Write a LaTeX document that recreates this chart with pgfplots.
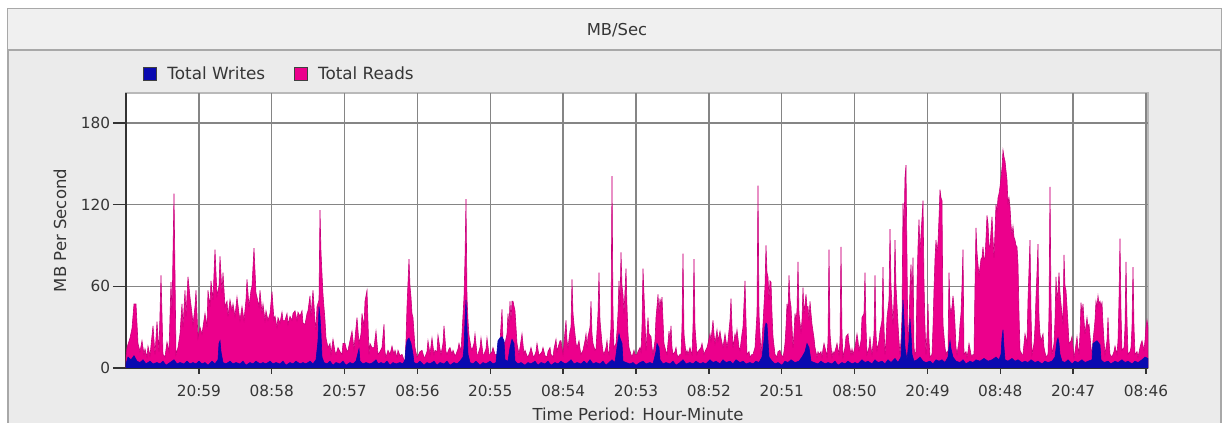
\documentclass[border=0pt]{standalone}
\usepackage{fontspec}
\setmainfont{DejaVu Sans}
\usepackage{pgfplots}
\usepackage{pgfplotstable}
\pgfplotsset{compat=1.18}
\definecolor{readc}{HTML}{EC008C}
\definecolor{readedge}{HTML}{C8007A}
\definecolor{writec}{HTML}{0A0AB0}
\definecolor{panel}{HTML}{EBEBEB}
\definecolor{panelborder}{HTML}{A8A8A8}
\definecolor{gridc}{HTML}{858585}
\definecolor{txt}{HTML}{363636}

\pgfplotstableread[row sep=\\]{
x y\\
126 8\\ 127 15\\ 130 22\\ 132 29\\ 134 47\\ 136 47\\ 138 18\\ 140 12\\ 142 20\\ 144 10\\ 145 14\\ 147 8\\ 148 16\\ 150 9\\ 153 31\\ 155 10\\ 157 34\\ 159 12\\ 161 68\\ 163 10\\ 165 8\\ 167 19\\ 169 12\\ 171 63\\ 172 40\\ 174 128\\ 176 10\\ 178 15\\ 180 25\\ 182 47\\ 183 30\\ 185 57\\ 186 38\\ 188 67\\ 190 52\\ 192 40\\ 193 32\\ 195 45\\ 196 57\\ 198 22\\ 200 30\\ 202 25\\ 204 35\\ 205 40\\ 207 30\\ 208 57\\ 210 45\\ 211 64\\ 213 50\\ 215 87\\ 217 53\\ 219 60\\ 220 82\\ 222 55\\ 223 70\\ 225 45\\ 227 49\\ 228 38\\ 230 50\\ 232 42\\ 233 47\\ 235 38\\ 237 52\\ 239 40\\ 240 35\\ 242 45\\ 244 35\\ 246 50\\ 247 65\\ 249 45\\ 251 57\\ 252 60\\ 254 88\\ 256 55\\ 257 52\\ 259 45\\ 260 57\\ 262 40\\ 263 47\\ 265 35\\ 266 42\\ 268 35\\ 270 40\\ 272 56\\ 274 35\\ 275 38\\ 277 30\\ 278 37\\ 280 33\\ 282 41\\ 283 35\\ 285 35\\ 287 40\\ 288 32\\ 290 38\\ 292 35\\ 293 40\\ 295 42\\ 297 35\\ 298 41\\ 300 38\\ 302 42\\ 303 33\\ 305 32\\ 307 40\\ 308 42\\ 310 53\\ 311 38\\ 313 57\\ 315 35\\ 316 28\\ 317 45\\ 319 50\\ 320 116\\ 321 85\\ 322 69\\ 323 54\\ 325 35\\ 326 22\\ 328 15\\ 330 18\\ 331 10\\ 333 21\\ 335 12\\ 336 10\\ 338 15\\ 340 12\\ 342 10\\ 343 18\\ 345 18\\ 347 12\\ 348 13\\ 350 20\\ 352 27\\ 354 14\\ 355 22\\ 357 37\\ 359 18\\ 361 25\\ 362 40\\ 364 30\\ 365 49\\ 367 57\\ 369 10\\ 370 18\\ 372 15\\ 374 15\\ 376 27\\ 378 10\\ 380 12\\ 382 15\\ 384 32\\ 385 12\\ 386 8\\ 388 13\\ 390 10\\ 392 16\\ 394 10\\ 395 13\\ 397 8\\ 398 13\\ 400 9\\ 402 10\\ 404 6\\ 405 5\\ 406 20\\ 407 45\\ 409 80\\ 410 60\\ 411 52\\ 412 40\\ 413 37\\ 415 15\\ 417 8\\ 418 9\\ 420 12\\ 422 13\\ 424 8\\ 425 8\\ 427 12\\ 428 20\\ 430 10\\ 432 22\\ 434 10\\ 435 13\\ 437 12\\ 438 24\\ 440 14\\ 441 10\\ 443 18\\ 444 31\\ 446 12\\ 447 10\\ 449 14\\ 450 15\\ 452 10\\ 453 13\\ 455 9\\ 456 10\\ 458 14\\ 459 18\\ 461 12\\ 462 25\\ 464 52\\ 465 80\\ 466 124\\ 467 52\\ 468 35\\ 469 24\\ 471 15\\ 472 13\\ 474 18\\ 475 25\\ 477 10\\ 478 10\\ 480 15\\ 481 22\\ 483 10\\ 484 10\\ 486 14\\ 487 22\\ 489 10\\ 490 10\\ 492 12\\ 493 15\\ 495 10\\ 497 10\\ 499 18\\ 500 19\\ 502 43\\ 503 20\\ 505 18\\ 507 25\\ 508 40\\ 509 30\\ 510 49\\ 511 35\\ 512 49\\ 513 49\\ 515 42\\ 516 30\\ 517 18\\ 519 10\\ 520 15\\ 522 25\\ 524 10\\ 525 13\\ 527 9\\ 528 8\\ 530 12\\ 531 15\\ 533 9\\ 534 8\\ 536 12\\ 537 18\\ 539 9\\ 540 10\\ 542 12\\ 543 15\\ 545 9\\ 547 8\\ 548 12\\ 550 15\\ 551 10\\ 553 8\\ 554 14\\ 556 21\\ 557 12\\ 558 15\\ 560 20\\ 561 20\\ 563 10\\ 564 18\\ 566 35\\ 567 20\\ 568 15\\ 570 27\\ 571 30\\ 572 65\\ 573 40\\ 574 32\\ 576 18\\ 577 15\\ 579 20\\ 580 14\\ 581 10\\ 583 13\\ 585 20\\ 586 25\\ 587 15\\ 588 23\\ 590 30\\ 591 49\\ 592 25\\ 593 18\\ 595 13\\ 596 14\\ 597 27\\ 598 40\\ 599 70\\ 600 35\\ 602 18\\ 603 12\\ 604 10\\ 606 15\\ 607 20\\ 608 12\\ 609 10\\ 611 30\\ 612 141\\ 613 40\\ 614 15\\ 616 18\\ 617 27\\ 618 40\\ 619 64\\ 620 45\\ 621 85\\ 622 60\\ 623 54\\ 624 40\\ 626 73\\ 627 45\\ 628 25\\ 629 15\\ 631 10\\ 632 8\\ 634 13\\ 635 10\\ 637 10\\ 638 12\\ 640 15\\ 641 12\\ 642 30\\ 643 73\\ 645 35\\ 646 13\\ 648 37\\ 649 25\\ 651 23\\ 652 15\\ 653 10\\ 655 20\\ 656 37\\ 657 45\\ 658 54\\ 659 40\\ 660 51\\ 661 45\\ 662 52\\ 663 35\\ 664 18\\ 666 12\\ 667 10\\ 669 27\\ 670 20\\ 671 31\\ 672 15\\ 673 10\\ 675 12\\ 676 15\\ 677 10\\ 678 8\\ 680 10\\ 681 10\\ 682 30\\ 683 84\\ 684 25\\ 686 10\\ 687 13\\ 688 10\\ 690 15\\ 691 12\\ 692 10\\ 693 30\\ 694 80\\ 695 30\\ 697 10\\ 698 12\\ 699 13\\ 701 15\\ 702 18\\ 704 10\\ 705 12\\ 707 15\\ 708 18\\ 710 25\\ 711 20\\ 713 35\\ 714 25\\ 715 18\\ 717 28\\ 718 20\\ 720 27\\ 721 22\\ 723 15\\ 724 20\\ 725 25\\ 727 15\\ 728 20\\ 730 35\\ 731 51\\ 732 30\\ 733 15\\ 735 25\\ 736 22\\ 737 28\\ 739 15\\ 740 13\\ 742 25\\ 743 30\\ 745 64\\ 746 35\\ 747 10\\ 749 12\\ 750 8\\ 752 10\\ 753 10\\ 755 15\\ 757 40\\ 758 134\\ 759 40\\ 761 10\\ 762 20\\ 763 32\\ 765 60\\ 766 90\\ 767 70\\ 768 67\\ 769 50\\ 770 64\\ 771 63\\ 772 40\\ 773 23\\ 775 10\\ 777 8\\ 778 12\\ 780 13\\ 781 10\\ 783 8\\ 784 12\\ 785 18\\ 786 30\\ 787 47\\ 788 40\\ 789 68\\ 790 50\\ 791 45\\ 793 15\\ 794 25\\ 795 40\\ 796 35\\ 797 42\\ 798 78\\ 799 40\\ 801 27\\ 802 35\\ 803 59\\ 804 40\\ 806 54\\ 807 45\\ 808 45\\ 809 35\\ 810 49\\ 811 40\\ 812 32\\ 814 22\\ 815 15\\ 817 8\\ 818 12\\ 819 10\\ 821 12\\ 822 8\\ 823 14\\ 824 18\\ 826 12\\ 827 8\\ 828 20\\ 829 87\\ 830 25\\ 832 8\\ 833 12\\ 834 10\\ 836 15\\ 837 18\\ 839 10\\ 840 20\\ 841 89\\ 842 25\\ 843 8\\ 845 15\\ 846 23\\ 848 25\\ 849 18\\ 851 10\\ 852 14\\ 853 10\\ 855 15\\ 857 25\\ 858 20\\ 859 13\\ 861 20\\ 862 37\\ 864 40\\ 865 70\\ 866 30\\ 867 10\\ 869 15\\ 870 23\\ 871 15\\ 872 10\\ 874 25\\ 875 68\\ 876 25\\ 877 13\\ 879 20\\ 880 27\\ 882 35\\ 883 74\\ 884 30\\ 885 10\\ 886 20\\ 887 37\\ 889 50\\ 890 102\\ 891 60\\ 893 32\\ 894 50\\ 895 94\\ 896 60\\ 898 32\\ 899 20\\ 900 10\\ 901 20\\ 902 37\\ 903 121\\ 904 100\\ 905 140\\ 906 149\\ 907 80\\ 908 13\\ 909 30\\ 910 60\\ 911 76\\ 912 50\\ 913 81\\ 914 15\\ 915 10\\ 916 12\\ 917 60\\ 918 89\\ 919 109\\ 920 85\\ 921 98\\ 922 110\\ 923 123\\ 924 62\\ 925 30\\ 926 10\\ 927 25\\ 928 47\\ 929 20\\ 930 8\\ 931 9\\ 932 10\\ 933 30\\ 934 57\\ 935 80\\ 936 94\\ 937 85\\ 938 92\\ 939 110\\ 940 131\\ 941 125\\ 942 123\\ 943 32\\ 945 15\\ 946 10\\ 947 12\\ 948 10\\ 949 70\\ 950 45\\ 951 40\\ 952 45\\ 953 53\\ 954 45\\ 955 32\\ 956 15\\ 957 10\\ 959 20\\ 960 32\\ 961 40\\ 962 60\\ 963 87\\ 964 10\\ 966 12\\ 967 8\\ 968 12\\ 969 18\\ 971 10\\ 972 8\\ 973 10\\ 974 10\\ 975 60\\ 976 103\\ 977 85\\ 978 76\\ 979 68\\ 980 74\\ 981 80\\ 982 81\\ 983 89\\ 984 80\\ 985 81\\ 986 95\\ 987 112\\ 988 106\\ 989 90\\ 990 89\\ 991 100\\ 992 111\\ 993 95\\ 994 81\\ 995 100\\ 996 120\\ 997 115\\ 998 125\\ 999 128\\ 1000 133\\ 1001 140\\ 1002 147\\ 1003 160\\ 1004 155\\ 1005 152\\ 1006 145\\ 1007 138\\ 1008 120\\ 1009 125\\ 1010 118\\ 1011 105\\ 1012 98\\ 1013 104\\ 1014 96\\ 1015 94\\ 1016 90\\ 1017 89\\ 1018 76\\ 1019 40\\ 1020 13\\ 1022 10\\ 1023 10\\ 1025 25\\ 1027 18\\ 1028 50\\ 1030 94\\ 1031 40\\ 1032 10\\ 1034 18\\ 1035 30\\ 1036 52\\ 1037 70\\ 1038 91\\ 1039 37\\ 1040 25\\ 1041 20\\ 1043 25\\ 1044 15\\ 1046 8\\ 1048 10\\ 1049 40\\ 1050 133\\ 1051 50\\ 1052 10\\ 1054 18\\ 1055 35\\ 1056 67\\ 1057 50\\ 1058 57\\ 1059 70\\ 1060 55\\ 1061 47\\ 1062 40\\ 1063 32\\ 1064 83\\ 1065 60\\ 1066 57\\ 1067 45\\ 1068 32\\ 1069 18\\ 1071 20\\ 1072 23\\ 1074 8\\ 1075 12\\ 1077 23\\ 1078 15\\ 1079 10\\ 1080 25\\ 1081 48\\ 1082 40\\ 1083 47\\ 1084 35\\ 1085 25\\ 1087 37\\ 1088 30\\ 1089 32\\ 1091 15\\ 1092 10\\ 1093 20\\ 1094 27\\ 1095 35\\ 1096 49\\ 1097 45\\ 1098 53\\ 1099 47\\ 1100 49\\ 1101 45\\ 1102 48\\ 1103 32\\ 1104 20\\ 1105 10\\ 1107 20\\ 1108 37\\ 1109 20\\ 1110 10\\ 1112 8\\ 1114 12\\ 1115 16\\ 1117 10\\ 1118 20\\ 1119 50\\ 1120 95\\ 1121 40\\ 1122 13\\ 1124 15\\ 1125 30\\ 1126 78\\ 1127 35\\ 1128 10\\ 1130 12\\ 1131 15\\ 1132 30\\ 1133 74\\ 1134 30\\ 1135 10\\ 1137 12\\ 1138 8\\ 1140 15\\ 1141 18\\ 1142 20\\ 1144 13\\ 1145 20\\ 1146 30\\ 1147 35\\ 1148 30\\
}\reads

\pgfplotstableread[row sep=\\]{
x y\\
126 3\\ 128 8\\ 131 6\\ 134 9\\ 137 5\\ 140 4\\ 143 6\\ 146 3\\ 150 5\\ 153 3\\ 157 4\\ 160 3\\ 163 5\\ 166 2\\ 170 4\\ 174 6\\ 177 3\\ 180 4\\ 184 3\\ 187 5\\ 190 3\\ 193 4\\ 196 3\\ 199 5\\ 202 3\\ 205 4\\ 208 2\\ 212 5\\ 215 3\\ 218 6\\ 219 18\\ 220 20\\ 221 12\\ 223 4\\ 226 3\\ 230 5\\ 233 3\\ 236 4\\ 240 3\\ 243 5\\ 246 2\\ 250 4\\ 253 3\\ 256 5\\ 260 3\\ 263 4\\ 266 3\\ 270 5\\ 273 3\\ 276 4\\ 280 3\\ 283 5\\ 286 2\\ 290 4\\ 293 3\\ 296 5\\ 300 3\\ 303 4\\ 306 3\\ 310 5\\ 313 3\\ 316 6\\ 318 20\\ 319 45\\ 320 38\\ 321 25\\ 322 8\\ 324 4\\ 327 3\\ 330 5\\ 333 2\\ 336 4\\ 340 3\\ 343 5\\ 346 2\\ 350 4\\ 353 3\\ 356 5\\ 359 14\\ 360 5\\ 363 3\\ 366 4\\ 370 3\\ 373 4\\ 376 6\\ 378 3\\ 381 4\\ 384 3\\ 387 5\\ 390 2\\ 393 4\\ 396 3\\ 400 4\\ 403 3\\ 405 6\\ 406 15\\ 407 20\\ 409 22\\ 411 18\\ 413 10\\ 414 4\\ 417 3\\ 420 5\\ 424 2\\ 427 4\\ 430 3\\ 434 5\\ 437 2\\ 440 4\\ 444 3\\ 447 5\\ 450 2\\ 454 4\\ 457 3\\ 460 5\\ 463 8\\ 464 15\\ 465 35\\ 466 50\\ 467 30\\ 468 10\\ 470 4\\ 473 3\\ 476 5\\ 480 2\\ 483 4\\ 486 3\\ 490 5\\ 493 3\\ 496 4\\ 498 20\\ 500 22\\ 502 23\\ 504 20\\ 505 6\\ 508 5\\ 510 15\\ 512 21\\ 514 18\\ 515 5\\ 518 3\\ 521 4\\ 525 2\\ 528 4\\ 531 3\\ 535 5\\ 538 2\\ 541 4\\ 545 3\\ 548 5\\ 551 2\\ 555 4\\ 558 3\\ 561 5\\ 565 3\\ 568 4\\ 571 6\\ 574 3\\ 577 4\\ 581 3\\ 584 5\\ 587 3\\ 590 6\\ 593 3\\ 596 4\\ 600 3\\ 603 5\\ 606 2\\ 609 4\\ 612 6\\ 615 4\\ 617 15\\ 619 25\\ 620 22\\ 622 18\\ 623 5\\ 626 4\\ 630 3\\ 633 4\\ 636 2\\ 640 4\\ 643 5\\ 646 3\\ 650 4\\ 653 3\\ 656 12\\ 657 18\\ 659 15\\ 660 6\\ 663 3\\ 666 4\\ 670 3\\ 673 5\\ 676 2\\ 680 4\\ 683 6\\ 686 3\\ 690 4\\ 693 3\\ 696 5\\ 700 3\\ 703 4\\ 706 3\\ 710 6\\ 713 4\\ 716 5\\ 720 3\\ 723 6\\ 726 4\\ 730 5\\ 733 3\\ 736 6\\ 740 4\\ 743 5\\ 746 3\\ 750 4\\ 753 3\\ 756 5\\ 759 4\\ 762 8\\ 764 20\\ 765 30\\ 766 33\\ 767 32\\ 768 20\\ 769 8\\ 772 5\\ 775 3\\ 778 4\\ 782 2\\ 785 5\\ 788 4\\ 791 6\\ 795 4\\ 799 5\\ 802 8\\ 805 12\\ 807 18\\ 809 15\\ 811 5\\ 814 4\\ 818 3\\ 821 5\\ 825 3\\ 828 4\\ 832 3\\ 835 5\\ 838 2\\ 842 4\\ 845 3\\ 848 5\\ 852 3\\ 855 4\\ 858 3\\ 862 6\\ 865 4\\ 868 5\\ 872 3\\ 875 6\\ 878 4\\ 882 5\\ 885 3\\ 888 6\\ 891 4\\ 895 7\\ 898 4\\ 901 8\\ 902 25\\ 903 50\\ 904 35\\ 905 15\\ 907 6\\ 909 20\\ 910 36\\ 911 25\\ 912 10\\ 914 5\\ 917 6\\ 920 8\\ 923 5\\ 926 4\\ 930 5\\ 933 3\\ 936 6\\ 939 5\\ 942 6\\ 945 4\\ 948 8\\ 949 15\\ 950 20\\ 951 14\\ 953 8\\ 956 5\\ 960 4\\ 963 6\\ 966 3\\ 970 5\\ 973 4\\ 976 6\\ 980 5\\ 984 7\\ 988 5\\ 992 6\\ 996 8\\ 999 6\\ 1001 10\\ 1002 22\\ 1003 28\\ 1004 15\\ 1005 6\\ 1008 5\\ 1012 7\\ 1015 5\\ 1018 6\\ 1022 4\\ 1025 5\\ 1028 4\\ 1031 6\\ 1035 4\\ 1038 5\\ 1042 3\\ 1045 5\\ 1048 4\\ 1052 5\\ 1055 8\\ 1057 20\\ 1058 22\\ 1059 18\\ 1060 10\\ 1062 5\\ 1065 4\\ 1068 6\\ 1072 3\\ 1075 5\\ 1078 4\\ 1082 6\\ 1085 4\\ 1088 5\\ 1092 6\\ 1093 18\\ 1095 19\\ 1097 20\\ 1099 18\\ 1100 17\\ 1101 6\\ 1104 4\\ 1108 5\\ 1111 3\\ 1115 5\\ 1118 4\\ 1122 6\\ 1125 4\\ 1128 5\\ 1132 3\\ 1135 5\\ 1138 4\\ 1142 6\\ 1145 8\\ 1148 7\\
}\writes

\begin{document}
\begin{tikzpicture}
\useasboundingbox (-94.5pt,-41.25pt) rectangle (827.25pt,276pt);
\clip (-94.5pt,-41.25pt) rectangle (827.25pt,276pt);
\begin{scope}[x=0.75pt,y=0.75pt,shift={(-94.5pt,-41.25pt)}]
\fill[white] (0,0) rectangle (1229,423);
\filldraw[fill=panel, draw=panelborder, line width=0.9pt] (8,-10) rectangle (1221,414);
\fill[panel!75!white] (8.5,373.5) rectangle (1220.5,413.5);
\draw[panelborder, line width=0.9pt] (8,373) -- (1221,373);
\node[text=txt, font=\fontsize{12.3}{14}\selectfont] at (617,393) {MB/Sec};
\filldraw[fill=white, draw=gray!55, line width=0.8pt] (126,55) rectangle (1148,330);
\end{scope}
\begin{axis}[
  at={(0pt,0pt)}, anchor=south west,
  scale only axis, width=766.5pt, height=206.25pt,
  xmin=126, xmax=1148, ymin=0, ymax=202,
  xtick={198.86,271.71,344.57,417.43,490.29,563.14,636,708.86,781.71,854.57,927.43,1000.29,1073.14,1146},
  xticklabels={20:59,08:58,20:57,08:56,20:55,08:54,20:53,08:52,20:51,08:50,20:49,08:48,20:47,08:46},
  ytick={0,60,120,180},
  /pgf/number format/assume math mode=true,
  grid=major,
  major grid style={draw=gridc, line width=1.05pt},
  axis x line*=bottom, axis y line*=left,
  axis line style={-, draw=black!80, line width=1.2pt},
  tick align=outside,
  major tick length=9.75pt,
  xtick style={draw=black!80, line width=1pt, /pgfplots/major tick length=4.5pt},
  ytick style={draw=black!80, line width=1pt},
  tick label style={text=txt, font=\fontsize{11.5}{13}\selectfont},
  yticklabel style={inner sep=2pt},
  xticklabel style={inner sep=2pt, yshift=-1pt},
  ylabel={MB Per Second},
  xlabel={Time Period: Hour-Minute},
  label style={text=txt, font=\fontsize{12.4}{14}\selectfont},
  ylabel style={at={(axis description cs:-0.0646,0.5)}, anchor=center},
  xlabel style={at={(axis description cs:0.501,-0.167)}, anchor=center},
  legend columns=2,
  legend style={draw=none, fill=none, at={(0.0166,1.069)}, anchor=west, inner sep=0pt,
    font=\fontsize{12.6}{14}\selectfont, text=txt,
    /tikz/every odd column/.append style={column sep=6pt},
    /tikz/every even column/.append style={column sep=19.5pt}},
  legend image code/.code={\draw[#1, draw=black!75, line width=0.7pt] (0pt,-4.7pt) rectangle (9.5pt,4.7pt);},
]
\addlegendimage{fill=writec}
\addlegendentry{Total Writes}
\addlegendimage{fill=readc}
\addlegendentry{Total Reads}
\addplot[fill=readc, draw=readedge, line width=0.45pt, forget plot] table[x=x,y=y]{\reads} \closedcycle;
\addplot[fill=writec, draw=writec, line width=0.45pt, forget plot] table[x=x,y=y]{\writes} \closedcycle;
\end{axis}
\end{tikzpicture}
\end{document}
